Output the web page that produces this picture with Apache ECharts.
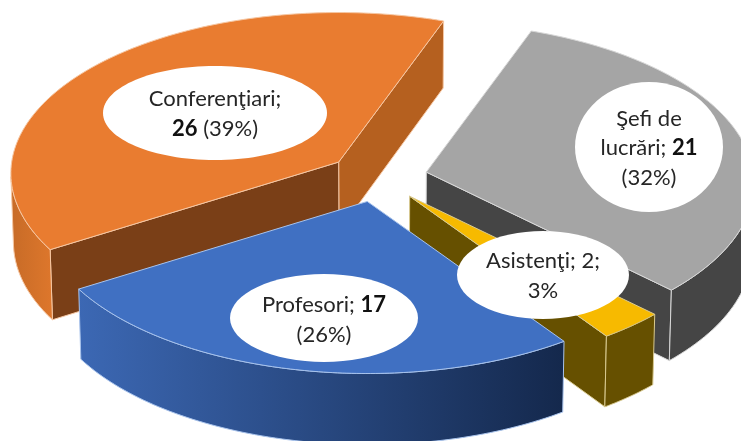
<!DOCTYPE html>
<html><head><meta charset="utf-8">
<style>html,body{margin:0;padding:0;background:#fff}#c{width:741px;height:441px}</style>
<script src="https://cdn.jsdelivr.net/npm/echarts@6/dist/echarts.min.js"></script>
</head><body><div id="c"></div>
<script>
// ---- data (counter-clockwise from the start angle) ----
var categories = ['Conferenţiari', 'Profesori', 'Asistenţi', 'Şefi de lucrări'];
var values = [26, 17, 2, 21];

// ---- style and layout, separate from the data ----
var pie = {cx: 377.5, cy: 177.5, a: 327, b: 160, p: 0.07, explode: 0.153, start: 70, depth: 69};
var looks = [
  {top: '#E97C30', edge: '#F6C7A3', sideA: '#7A3F17', sideB: '#B5601F', rimFrom: '#C76B27', rimTo: '#DE772C'},
  {top: '#4070C2', edge: '#A8C3EC', sideA: '#2F5597', sideB: '#2F5597', rimFrom: '#3C68B4', rimTo: '#14284C'},
  {top: '#F7BA00', edge: '#D9CA90', sideA: '#665000', sideB: '#665000', rimFrom: '#665000', rimTo: '#665000'},
  {top: '#A5A5A5', edge: '#D8D8D8', sideA: '#454545', sideB: '#454545', rimFrom: '#454545', rimTo: '#454545'}
];
var labelBoxes = [
  {x: 215, y: 113, rx: 112, ry: 47, ty: 114},
  {x: 324, y: 318, rx: 94, ry: 44, ty: 320},
  {x: 543, y: 275, rx: 86, ry: 44, ty: 276},
  {x: 649, y: 147, rx: 74, ry: 65, ty: 148}
];

var total = values.reduce(function (s, v) { return s + v; }, 0);
function pct(i) { return Math.round(values[i] / total * 100) + '%'; }
var labelTexts = [
  categories[0] + ';\n{b|' + values[0] + '} (' + pct(0) + ')',
  'Profesori; {b|' + values[1] + '}\n(' + pct(1) + ')',
  categories[2] + '; ' + values[2] + ';\n' + pct(2),
  'Şefi de\nlucrări; {b|' + values[3] + '}\n(' + pct(3) + ')'
];

var slices = [], acc = pie.start;
values.forEach(function (v, i) {
  var span = v / total * 360;
  slices.push({i: i, from: acc, to: acc + span, mid: acc + span / 2});
  acc += span;
});
var drawOrder = slices.slice().sort(function (p, q) {
  return Math.sin(q.mid * Math.PI / 180) - Math.sin(p.mid * Math.PI / 180);
});

function rad(d) { return d * Math.PI / 180; }
function apexOf(s) {
  return [pie.cx + pie.a * pie.explode * Math.cos(rad(s.mid)),
          pie.cy - pie.b * pie.explode * Math.sin(rad(s.mid))];
}
function proj(s, r, deg) {
  var A = apexOf(s), u = r * Math.cos(rad(deg)), v = r * Math.sin(rad(deg)), w = 1 + pie.p * v;
  return [A[0] + pie.a * u / w, A[1] - pie.b * v / w, v];
}
function drop(P) {
  return [P[0] + 0.007 * (pie.cx - P[0]), P[1] + pie.depth / (1 + 0.03 * P[2])];
}
function poly(points, fill, stroke) {
  return {type: 'polygon', shape: {points: points},
          style: {fill: fill, stroke: stroke, lineWidth: 1, lineJoin: 'round'}};
}
function rimRange(s) {
  var pts = [], d;
  for (d = s.from; d <= s.to + 1e-6; d += Math.max((s.to - s.from) / 80, 0.25)) {
    if (Math.sin(rad(d)) < -pie.p + 0.001) pts.push(d);
  }
  if (pts.length && pts[pts.length - 1] < s.to && Math.sin(rad(s.to)) < -pie.p) pts.push(s.to);
  return pts;
}
function renderSlice(params, api) {
  var s = drawOrder[api.value(0)], L = looks[s.i], kids = [];
  var A = proj(s, 0, 0), I = proj(s, 0.5, s.mid);
  function radial(deg, color) {
    var R = proj(s, 1, deg);
    var lineY = A[1] + (R[1] - A[1]) * (I[0] - A[0]) / (R[0] - A[0]);
    if (I[1] < lineY) {
      kids.push(poly([A.slice(0, 2), R.slice(0, 2), drop(R), drop(A)], color, L.edge));
    }
  }
  radial(s.from, L.sideB);
  radial(s.to, L.sideA);
  var ds = rimRange(s);
  if (ds.length > 1) {
    var topArc = ds.map(function (d) { return proj(s, 1, d); });
    var bottom = topArc.map(drop).reverse();
    var grad = new echarts.graphic.LinearGradient(0, 0, 1, 0, [
      {offset: 0, color: L.rimFrom}, {offset: 1, color: L.rimTo}]);
    kids.push(poly(topArc.map(function (P) { return P.slice(0, 2); }).concat(bottom), grad, L.edge));
  }
  var top = [A.slice(0, 2)], n = 120, k;
  for (k = 0; k <= n; k++) top.push(proj(s, 1, s.from + (s.to - s.from) * k / n).slice(0, 2));
  kids.push(poly(top, L.top, L.edge));
  return {type: 'group', children: kids};
}
function renderLabel(params, api) {
  var i = api.value(0), B = labelBoxes[i];
  return {type: 'group', children: [
    {type: 'ellipse', shape: {cx: B.x, cy: B.y, rx: B.rx, ry: B.ry}, style: {fill: '#fff'}},
    {type: 'text', x: B.x, y: B.ty, style: {
      text: labelTexts[i], align: 'center', verticalAlign: 'middle',
      fontFamily: 'Lato', fontSize: 22, lineHeight: 29.5, fill: '#262626',
      rich: {b: {fontFamily: 'Lato', fontSize: 22, fontWeight: 'bold', lineHeight: 29.5, fill: '#111'}}
    }}
  ]};
}
var chart = echarts.init(document.getElementById('c'), null, {renderer: 'canvas'});
chart.setOption({
  animation: false,
  backgroundColor: '#fff',
  series: [
    {type: 'custom', coordinateSystem: 'none', renderItem: renderSlice, z: 2, silent: true,
     data: drawOrder.map(function (s, i) { return [i]; })},
    {type: 'custom', coordinateSystem: 'none', renderItem: renderLabel, z: 3, silent: true,
     data: values.map(function (v, i) { return [i]; })}
  ]
});
</script></body></html>
